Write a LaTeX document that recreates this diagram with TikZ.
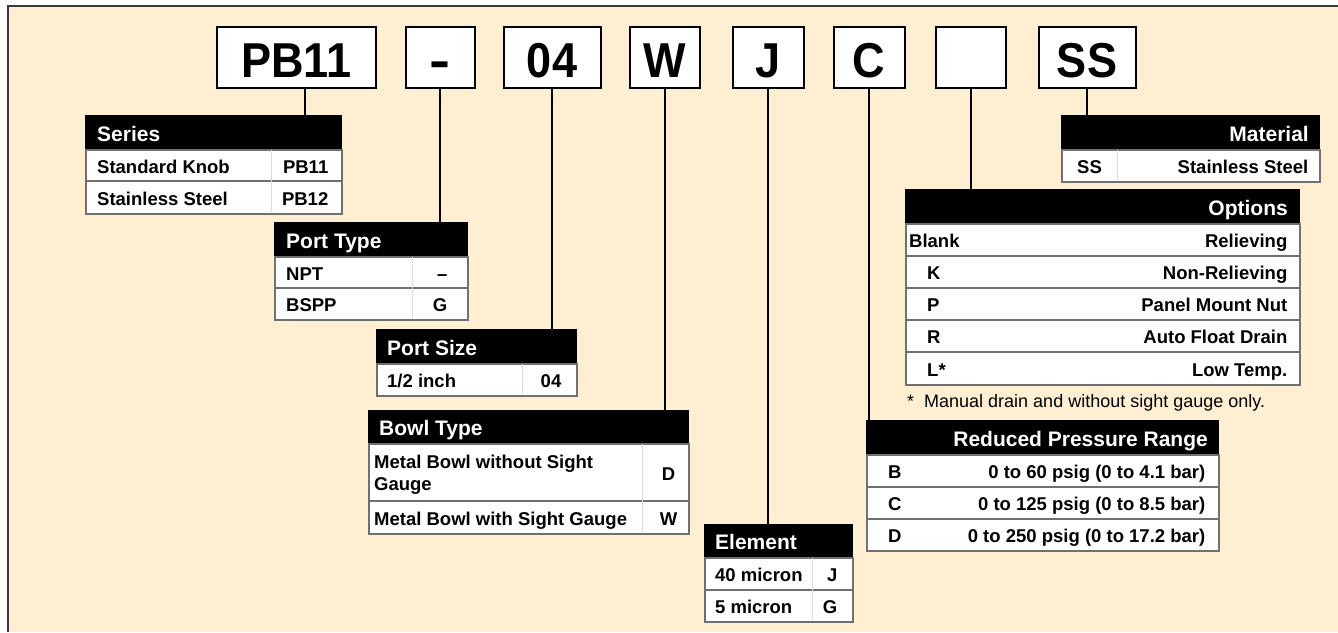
\documentclass[tikz,border=0pt]{standalone}
\usepackage{fontspec}
\setmainfont{Liberation Sans}
\newfontfamily\codefont[FakeStretch=0.92]{Liberation Sans}
\definecolor{cream}{HTML}{FEEFD2}
\definecolor{cellline}{HTML}{707070}
\definecolor{frameline}{HTML}{3A3A3A}
\definecolor{divline}{HTML}{DCDCDC}
\newcommand\mytabfont{\fontsize{18.5}{22}\selectfont\bfseries}
\newcommand\myhdrfont{\fontsize{21}{24}\selectfont\bfseries}
\newcommand\myfootfont{\fontsize{18}{20}\selectfont}
\newcommand\mycodefont{\codefont\fontsize{49}{50}\selectfont\bfseries}
\begin{document}
\begin{tikzpicture}[x=1pt,y=-1pt,
  codebox/.style={draw=black, line width=2pt, fill=white, minimum height=61pt, inner sep=0pt,
    text height=39.6pt, text depth=0pt, font=\mycodefont},
  conn/.style={draw=black, line width=2pt},
  hdr/.style={fill=black, draw=black, line width=1pt, anchor=north west, inner sep=0pt},
  cell/.style={draw=cellline, line width=1.5pt, fill=white, anchor=north west, inner sep=0pt},
  lt/.style={anchor=west, inner sep=0pt, text height=16pt, text depth=0pt, font=\mytabfont},
  rt/.style={lt, anchor=east},
  ct/.style={lt, anchor=center},
  hl/.style={anchor=west, inner sep=0pt, text height=17.3pt, text depth=0pt, font=\myhdrfont, text=white},
  hr/.style={hl, anchor=east},
  div/.style={draw=divline, line width=0.6pt}
]
\useasboundingbox (0,0) rectangle (1338,632);
\fill[white] (0,0) rectangle (1338,632);
\fill[cream] (8,6) rectangle (1338,632);
\draw[frameline, line width=2pt] (8,632) -- (8,6) -- (1338,6);

% code boxes
\node[codebox, minimum width=159pt] (pb) at (296.5,57.5) {PB11};
\node[codebox, minimum width=69pt] (dash) at (440,57.5) {\scalebox{1.4}[1]{-}};
\node[codebox, minimum width=97pt] (n04) at (552,57.5) {04};
\node[codebox, minimum width=70pt] (w) at (665,57.5) {W};
\node[codebox, minimum width=71pt] (j) at (768,57.5) {J};
\node[codebox, minimum width=71pt] (c) at (869,57.5) {C};
\node[codebox, minimum width=70pt] (blank) at (971,57.5) {};
\node[codebox, minimum width=97pt] (ss) at (1087,57.5) {SS};

% Series
\node[hdr, minimum width=256pt, minimum height=34pt] (ser) at (85,115) {};
\node[hl] (serh) at ([xshift=12pt]ser.west) {Series};
\node[cell, minimum width=256pt, minimum height=31pt] (ser1) at (85,149) {};
\node[cell, minimum width=256pt, minimum height=33pt] (ser2) at (85,180) {};
\draw[div] (271,150) -- (271,212);
\node[lt] (ser1a) at ([xshift=12pt]ser1.west) {Standard Knob};
\node[rt] (ser1b) at ([xshift=-14pt]ser1.east) {PB11};
\node[lt] (ser2a) at ([xshift=12pt]ser2.west) {Stainless Steel};
\node[rt] (ser2b) at ([xshift=-14pt]ser2.east) {PB12};

% Port Type
\node[hdr, minimum width=193pt, minimum height=34pt] (pt) at (274,222) {};
\node[hl] (pth) at ([xshift=12pt]pt.west) {Port Type};
\node[cell, minimum width=193pt, minimum height=31pt] (pt1) at (274,256) {};
\node[cell, minimum width=193pt, minimum height=32pt] (pt2) at (274,287) {};
\draw[div] (412,257) -- (412,318);
\node[lt] (pt1a) at ([xshift=12pt]pt1.west) {NPT};
\node[rt] (pt1b) at ([xshift=-21pt]pt1.east) {–};
\node[lt] (pt2a) at ([xshift=12pt]pt2.west) {BSPP};
\node[rt] (pt2b) at ([xshift=-21pt]pt2.east) {G};

% Port Size
\node[hdr, minimum width=200pt, minimum height=34pt] (ps) at (376,329) {};
\node[hl] (psh) at ([xshift=11pt]ps.west) {Port Size};
\node[cell, minimum width=200pt, minimum height=32pt] (ps1) at (376,363) {};
\draw[div] (522,364) -- (522,394);
\node[lt] (ps1a) at ([xshift=11pt]ps1.west) {1/2 inch};
\node[rt] (ps1b) at ([xshift=-16pt]ps1.east) {04};

% Bowl Type
\node[hdr, minimum width=320pt, minimum height=33pt] (bt) at (368,410) {};
\node[hl] (bth) at ([xshift=11pt]bt.west) {Bowl Type};
\node[cell, minimum width=320pt, minimum height=57pt] (bt1) at (368,443) {};
\node[cell, minimum width=320pt, minimum height=33pt] (bt2) at (368,500) {};
\draw[div] (642,444) -- (642,532);
\node[anchor=west, inner sep=0pt, font=\mytabfont, align=left, yshift=-2.5pt] (bt1a) at ([xshift=6pt]bt1.west) {Metal Bowl without Sight\\Gauge};
\node[ct] (bt1b) at ([xshift=-21pt]bt1.east) {D};
\node[lt] (bt2a) at ([xshift=6pt]bt2.west) {Metal Bowl with Sight Gauge};
\node[ct] (bt2b) at ([xshift=-21pt]bt2.east) {W};

% Element
\node[hdr, minimum width=148pt, minimum height=33pt] (el) at (704,524) {};
\node[hl] (elh) at ([xshift=11pt]el.west) {Element};
\node[cell, minimum width=148pt, minimum height=32pt] (el1) at (704,557) {};
\node[cell, minimum width=148pt, minimum height=32pt] (el2) at (704,589) {};
\draw[div] (812,558) -- (812,620);
\node[lt] (el1a) at ([xshift=11pt]el1.west) {40 micron};
\node[rt] (el1b) at ([xshift=-16pt]el1.east) {J};
\node[lt] (el2a) at ([xshift=11pt]el2.west) {5 micron};
\node[rt] (el2b) at ([xshift=-16pt]el2.east) {G};

% Reduced Pressure Range
\node[hdr, minimum width=352pt, minimum height=34pt] (rp) at (866,420) {};
\node[hr] (rph) at ([xshift=-11pt]rp.east) {Reduced Pressure Range};
\node[cell, minimum width=352pt, minimum height=32pt] (rp1) at (866,454) {};
\node[cell, minimum width=352pt, minimum height=32pt] (rp2) at (866,486) {};
\node[cell, minimum width=352pt, minimum height=32pt] (rp3) at (866,518) {};
\node[lt] (rp1a) at ([xshift=22pt]rp1.west) {B};
\node[rt] (rp1b) at ([xshift=-14pt]rp1.east) {0 to 60 psig (0 to 4.1 bar)};
\node[lt] (rp2a) at ([xshift=22pt]rp2.west) {C};
\node[rt] (rp2b) at ([xshift=-14pt]rp2.east) {0 to 125 psig (0 to 8.5 bar)};
\node[lt] (rp3a) at ([xshift=22pt]rp3.west) {D};
\node[rt] (rp3b) at ([xshift=-14pt]rp3.east) {0 to 250 psig (0 to 17.2 bar)};

% Options
\node[hdr, minimum width=394pt, minimum height=34pt] (op) at (905,189) {};
\node[hr] (oph) at ([xshift=-12pt]op.east) {Options};
\node[cell, minimum width=394pt, minimum height=32pt] (op1) at (905,223) {};
\node[cell, minimum width=394pt, minimum height=32pt] (op2) at (905,255) {};
\node[cell, minimum width=394pt, minimum height=32pt] (op3) at (905,287) {};
\node[cell, minimum width=394pt, minimum height=32pt] (op4) at (905,319) {};
\node[cell, minimum width=394pt, minimum height=33pt] (op5) at (905,351) {};
\node[lt] (op1a) at ([xshift=4pt]op1.west) {Blank};
\node[rt] (op1b) at ([xshift=-13pt]op1.east) {Relieving};
\node[lt] (op2a) at ([xshift=22pt]op2.west) {K};
\node[rt] (op2b) at ([xshift=-13pt]op2.east) {Non-Relieving};
\node[lt] (op3a) at ([xshift=22pt]op3.west) {P};
\node[rt] (op3b) at ([xshift=-13pt]op3.east) {Panel Mount Nut};
\node[lt] (op4a) at ([xshift=22pt]op4.west) {R};
\node[rt] (op4b) at ([xshift=-13pt]op4.east) {Auto Float Drain};
\node[lt] (op5a) at ([xshift=22pt]op5.west) {L*};
\node[rt] (op5b) at ([xshift=-13pt]op5.east) {Low Temp.};
\node[anchor=base west, inner sep=0pt, font=\myfootfont] (fnstar) at (907,407) {*};
\node[anchor=base west, inner sep=0pt, font=\myfootfont] (fn) at (924,407) {Manual drain and without sight gauge only.};

% Material
\node[hdr, minimum width=258pt, minimum height=34pt] (mat) at (1061,115) {};
\node[hr] (math) at ([xshift=-11pt]mat.east) {Material};
\node[cell, minimum width=258pt, minimum height=32pt] (mat1) at (1061,149) {};
\draw[div] (1117,150) -- (1117,180);
\node[lt] (mat1a) at ([xshift=16pt]mat1.west) {SS};
\node[rt] (mat1b) at ([xshift=-12pt]mat1.east) {Stainless Steel};

% connectors
\coordinate (pbl) at ([xshift=8.5pt]pb.south);
\draw[conn] (pbl) -- (pbl |- ser.north);
\draw[conn] (dash.south) -- (dash.south |- pt.north);
\draw[conn] (n04.south) -- (n04.south |- ps.north);
\draw[conn] (w.south) -- (w.south |- bt.north);
\draw[conn] (j.south) -- (j.south |- el.north);
\draw[conn] (c.south) -- (c.south |- rp.north);
\draw[conn] (blank.south) -- (blank.south |- op.north);
\draw[conn] (ss.south) -- (ss.south |- mat.north);
\end{tikzpicture}
\end{document}
